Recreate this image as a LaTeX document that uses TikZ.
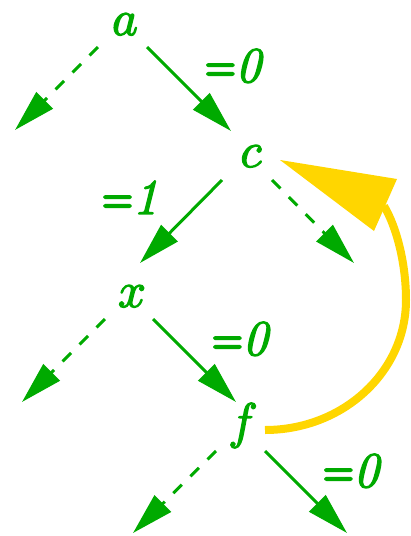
\RequirePackage{fix-cm}
\documentclass[tikz,border=0pt]{standalone}
\usepackage{graphicx}
\usetikzlibrary{arrows.meta}
\definecolor{treegreen}{RGB}{0,170,0}
\definecolor{loopgold}{RGB}{255,214,0}
\newcommand{\heavytext}[2]{\special{pdf:literal direct 2 Tr #1 w 1 j}#2\special{pdf:literal direct 0 Tr 0 j}}
\newcommand{\eqsign}{\scalebox{0.85}[1]{\heavytext{2.4}{=}}}
\tikzset{
  lbl/.style={anchor=base, inner sep=0pt, text=treegreen, font=\fontsize{50}{60}\selectfont},
  solidarrow/.style={draw=treegreen, line width=3pt, -{Triangle[length=42pt,width=23pt]}},
  dasharrow/.style={solidarrow, dash pattern=on 12pt off 12pt},
  loopline/.style={draw=loopgold, line width=8pt},
}
\begin{document}
\begin{tikzpicture}[x=1pt,y=-1pt]
\useasboundingbox (0,0) rectangle (411,536);
% connector ends
\coordinate (a-l) at (98,47);   \coordinate (a-r) at (147,47);
\coordinate (c-in) at (231,131);
\coordinate (c-l) at (222,180); \coordinate (c-r) at (272,180);
\coordinate (x-in) at (140,263);
\coordinate (x-l) at (105,319); \coordinate (x-r) at (153,319);
\coordinate (f-in) at (236,402);
\coordinate (f-l) at (216,451); \coordinate (f-r) at (265,451);
\coordinate (a-leaf) at (15,130);
\coordinate (c-leaf) at (354,263);
\coordinate (x-leaf) at (22,402);
\coordinate (f-leafl) at (133,533);
\coordinate (f-leafr) at (347,533);
% edges
\draw[dasharrow] (a-l) -- (a-leaf);
\draw[solidarrow] (a-r) -- (c-in);
\draw[solidarrow] (c-l) -- (x-in);
\draw[dasharrow] (c-r) -- (c-leaf);
\draw[dasharrow] (x-l) -- (x-leaf);
\draw[solidarrow] (x-r) -- (f-in);
\draw[dasharrow] (f-l) -- (f-leafl);
\draw[solidarrow] (f-r) -- (f-leafr);
% loop back from f to c
\coordinate (loop-start) at (265,430);
\coordinate (loop-right) at (406,300);
\coordinate (loop-end) at (384,206);
\coordinate (head-tip) at (280,160);
\coordinate (head-c1) at (397,179);
\coordinate (head-c2) at (374,231);
\draw[loopline] (loop-start) .. controls (343,430) and (406,372) .. (loop-right)
  .. controls (406,262) and (396,226) .. (loop-end);
\fill[loopgold] (head-tip) -- (head-c1) -- (head-c2) -- cycle;
% vertex labels
\node[lbl] (a) at (125,35) {\heavytext{1.4}{$a$}};
\node[lbl] (c) at (251,167) {\heavytext{1.4}{$c$}};
\node[lbl] (x) at (132,307) {\heavytext{1.4}{$x$}};
\node[lbl] (f) at (243,438) {\heavytext{1.4}{$f$}};
% edge labels
\node[lbl] (l1) at (234,82) {\eqsign\heavytext{1.4}{\textit{0}}};
\node[lbl] (l2) at (130,214) {\eqsign\heavytext{1.4}{\textit{1}}};
\node[lbl] (l3) at (241,355) {\eqsign\heavytext{1.4}{\textit{0}}};
\node[lbl] (l4) at (352,487) {\eqsign\heavytext{1.4}{\textit{0}}};
\end{tikzpicture}
\end{document}
